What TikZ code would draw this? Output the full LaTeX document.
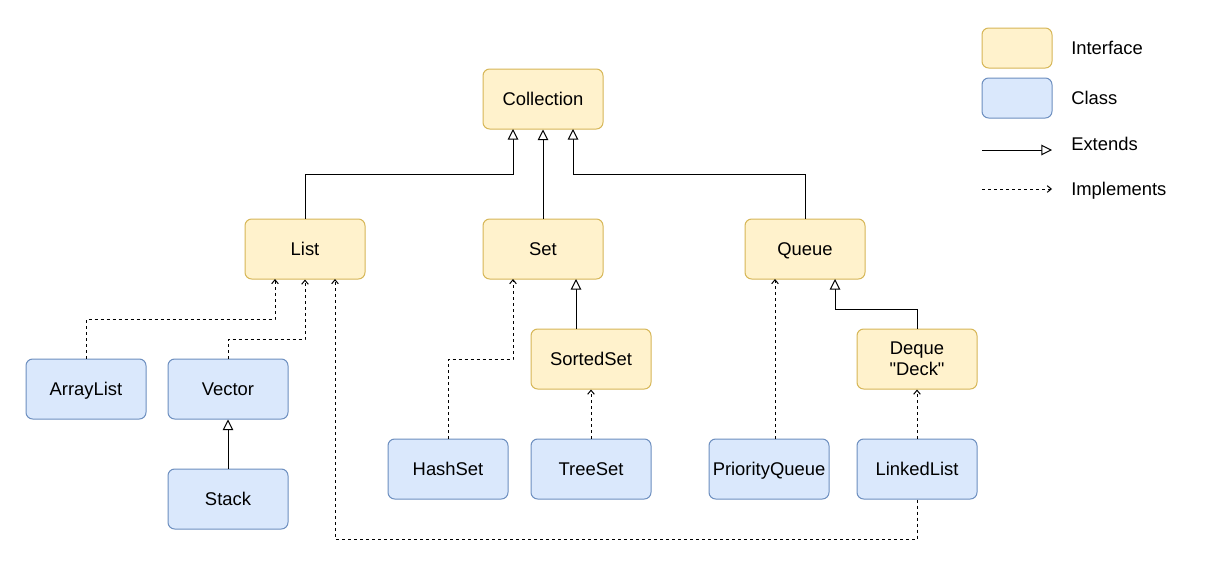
\documentclass[tikz,border=0pt]{standalone}
\usepackage{fontspec}
% plain family: straight quotes are kept as typed
\newfontfamily\labelfont{Liberation Sans}
\usetikzlibrary{arrows.meta}
\definecolor{ifill}{HTML}{FFF2CC}
\definecolor{iline}{HTML}{D6B656}
\definecolor{cfill}{HTML}{DAE8FC}
\definecolor{cline}{HTML}{6C8EBF}
\tikzset{
  box/.style={rounded corners=5pt, line width=0.75pt, minimum width=90pt, minimum height=45pt,
    inner sep=0pt, align=center, font=\labelfont\fontsize{13.8pt}{15.8pt}\selectfont,
    text height=9.9pt, text depth=0pt},
  twoline/.style={text height={}, text depth={}},
  iface/.style={box, fill=ifill, draw=iline},
  cls/.style={box, fill=cfill, draw=cline},
  legbox/.style={rounded corners=5pt, line width=0.75pt, minimum width=52.5pt, minimum height=30pt, inner sep=0pt},
  lbl/.style={anchor=west, inner sep=0pt, font=\labelfont\fontsize{13.8pt}{15.8pt}\selectfont,
    text height=9.9pt, text depth=0pt},
  extends/.style={line width=0.75pt, -{Triangle[open, length=8pt, width=8pt, fill=white]}},
  implements/.style={line width=0.75pt, dash pattern=on 2.25pt off 2.25pt,
    -{Straight Barb[length=3pt, width=5pt, line width=0.75pt]}},
}
\begin{document}
\begin{tikzpicture}[x=0.75pt, y=-0.75pt]
\useasboundingbox (0,0) rectangle (1211,575);

% interfaces
\node[iface] (coll) at (543,99) {Collection};
\node[iface] (list) at (305,249) {List};
\node[iface] (set) at (543,249) {Set};
\node[iface] (queue) at (805,249) {Queue};
\node[iface] (sorted) at (591,359) {SortedSet};
\node[iface, twoline] (deque) at (917,359) {Deque\\"Deck"};

% classes
\node[cls] (arraylist) at (86,389) {ArrayList};
\node[cls] (vector) at (228,389) {Vector};
\node[cls] (stack) at (228,499) {Stack};
\node[cls] (hashset) at (448,469) {HashSet};
\node[cls] (treeset) at (591,469) {TreeSet};
\node[cls] (pqueue) at (769,469) {PriorityQueue};
\node[cls] (linked) at (917,469) {LinkedList};

% extends
\draw[extends] (list.north) |- (513,174) -- (513,129);
\draw[extends] (set.north) -- (coll.south);
\draw[extends] (queue.north) |- (573,174) -- (573,129);
\draw[extends] (stack.north) -- (vector.south);
\draw[extends] (576,329) -- (576,279);
\draw[extends] (deque.north) |- (835,309) -- (835,279);

% implements
\draw[implements] (arraylist.north) |- (275,319) -- (275,279);
\draw[implements] (vector.north) |- (305,339) -- (list.south);
\draw[implements] (linked.south) -- (917,539) -| (335,279);
\draw[implements] (hashset.north) |- (513,359) -- (513,279);
\draw[implements] (treeset.north) -- (sorted.south);
\draw[implements] (775,439) -- (775,279);
\draw[implements] (linked.north) -- (deque.south);

% legend
\node[legbox, fill=ifill, draw=iline] (lgi) at (1017,48) {};
\node[legbox, fill=cfill, draw=cline] (lgc) at (1017,98) {};
\node[lbl] (lti) at (1071,48) {Interface};
\node[lbl] (ltc) at (1071,98) {Class};
\node[lbl] (lte) at (1071,144) {Extends};
\node[lbl] (ltm) at (1071,189) {Implements};
\coordinate (e1) at (982,150);
\coordinate (e2) at (1052,150);
\coordinate (m1) at (982,189);
\coordinate (m2) at (1052,189);
\draw[extends] (e1) -- (e2);
\draw[implements] (m1) -- (m2);
\end{tikzpicture}
\end{document}
